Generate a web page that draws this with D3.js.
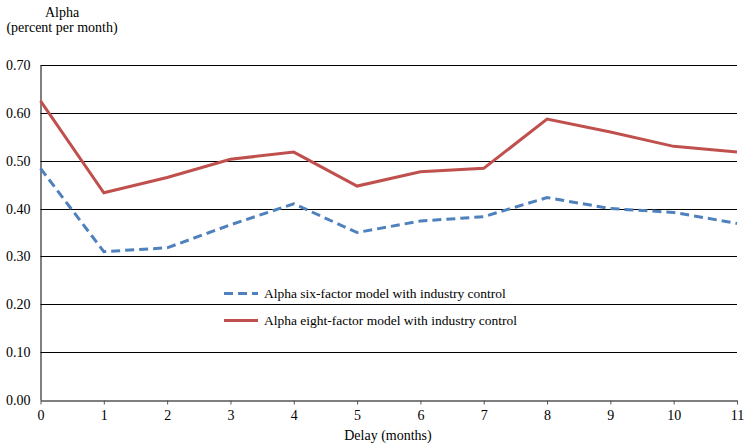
<!DOCTYPE html>
<html><head><meta charset="utf-8">
<script src="https://cdn.jsdelivr.net/npm/d3@7"></script>
<style>body{margin:0;background:#fff}svg{display:block}text{font-family:"Liberation Serif","Times New Roman",serif;fill:#000}</style>
</head><body><svg id="c" width="745" height="445"></svg>
<script>
const delays = [0,1,2,3,4,5,6,7,8,9,10,11];
const sixFactor = [0.484,0.310,0.318,0.366,0.410,0.350,0.374,0.383,0.423,0.400,0.392,0.369];
const eightFactor = [0.625,0.433,0.465,0.503,0.518,0.447,0.477,0.484,0.587,0.560,0.530,0.518];
const yTicks = [0,0.1,0.2,0.3,0.4,0.5,0.6,0.7];
const seriesNames = ["Alpha six-factor model with industry control","Alpha eight-factor model with industry control"];
const yTitle = ["Alpha","(percent per month)"];
const xTitle = "Delay (months)";

const svg = d3.select("#c");
const x = d3.scaleLinear().domain([0,11]).range([40.5,737]);
const y = d3.scaleLinear().domain([0,0.7]).range([400,65]);

// gridlines
svg.append("g").selectAll("line").data(yTicks.filter(d=>d>0)).join("line")
  .attr("x1",x(0)).attr("x2",x(11))
  .attr("y1",d=>Math.round(y(d))+0.5).attr("y2",d=>Math.round(y(d))+0.5)
  .attr("stroke","#000").attr("stroke-width",1);

// y axis
const ya = svg.append("g").attr("transform","translate(40.5,0)")
  .call(d3.axisLeft(y).tickValues(yTicks).tickFormat(d3.format(".2f")).tickSize(0).tickPadding(10));
ya.select(".domain").attr("stroke","#000");
ya.selectAll("text").attr("font-size",14).attr("font-family","Liberation Serif");

// x axis
const xa = svg.append("g").attr("transform","translate(0,400.5)")
  .call(d3.axisBottom(x).tickValues(delays).tickFormat(d3.format("d")).tickSizeInner(4).tickSizeOuter(0).tickPadding(6));
xa.select(".domain").attr("stroke","#555").attr("stroke-width",1.5);
xa.selectAll(".tick line").attr("stroke","#555");
xa.selectAll("text").attr("font-size",14).attr("font-family","Liberation Serif");

const line = d3.line().x((d,i)=>x(delays[i])).y(d=>y(d));
svg.append("path").datum(sixFactor).attr("d",line).attr("fill","none")
  .attr("stroke","#4F81BD").attr("stroke-width",3).attr("stroke-dasharray","9,5");
svg.append("path").datum(eightFactor).attr("d",line).attr("fill","none")
  .attr("stroke","#C0504D").attr("stroke-width",3);

// legend
const leg = [{c:"#4F81BD",dash:"9,5",y:293.5,t:seriesNames[0]},{c:"#C0504D",dash:null,y:320.5,t:seriesNames[1]}];
leg.forEach(l=>{
  svg.append("line").attr("x1",224).attr("x2",258).attr("y1",l.y).attr("y2",l.y)
    .attr("stroke",l.c).attr("stroke-width",3).attr("stroke-dasharray",l.dash);
  svg.append("text").attr("x",264).attr("y",l.y+4.5).attr("font-size",13.5).text(l.t);
});

// titles
svg.append("text").attr("x",62).attr("y",17).attr("text-anchor","middle").attr("font-size",14).text(yTitle[0]);
svg.append("text").attr("x",62).attr("y",32).attr("text-anchor","middle").attr("font-size",14).text(yTitle[1]);
svg.append("text").attr("x",388).attr("y",440).attr("text-anchor","middle").attr("font-size",14).text(xTitle);
</script></body></html>
